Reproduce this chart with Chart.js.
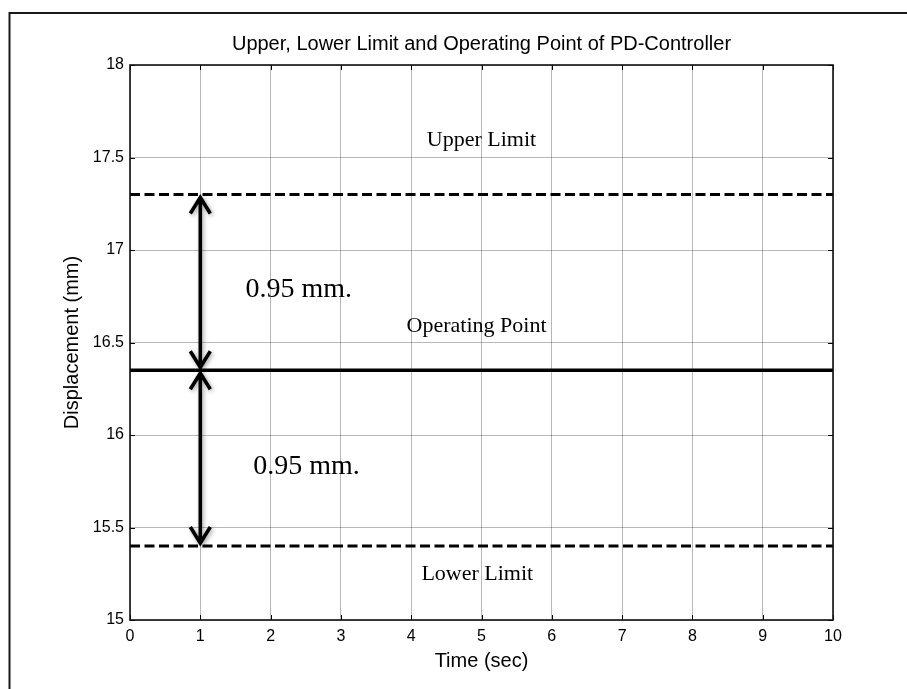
<!DOCTYPE html>
<html>
<head>
<meta charset="utf-8">
<title>Upper, Lower Limit and Operating Point of PD-Controller</title>
<script src="https://cdn.jsdelivr.net/npm/chart.js@4.4.0/dist/chart.umd.min.js"></script>
<style>
  html, body { margin: 0; padding: 0; background: #fff; }
  canvas { display: block; }
</style>
</head>
<body>
<canvas id="chart" width="907" height="689"></canvas>
<script>
// Time axis (sec) and the three horizontal reference levels (mm)
const timeSec = [0, 10];
const upperLimit = [17.3, 17.3];
const operatingPoint = [16.35, 16.35];
const lowerLimit = [15.4, 15.4];

// Tick values for both axes
const xTickValues = [0, 1, 2, 3, 4, 5, 6, 7, 8, 9, 10];
const yTickValues = [15, 15.5, 16, 16.5, 17, 17.5, 18];

// Time at which the span arrows are drawn
const arrowTime = 1;

const SANS = '"Liberation Sans", Arial, Helvetica, sans-serif';
const SERIF = '"Liberation Serif", "Times New Roman", Times, serif';

const toPoints = (ys) => timeSec.map((t, i) => ({ x: t, y: ys[i] }));
const spanText = (a, b) => (a - b).toFixed(2) + ' mm.';

// Text notes placed in data coordinates (baseline position)
const notes = [
  { text: 'Upper Limit', x: 5.0, y: 17.562, size: 22 },
  { text: 'Operating Point', x: 4.93, y: 16.558, size: 22 },
  { text: 'Lower Limit', x: 4.94, y: 15.216, size: 22 },
  { text: spanText(upperLimit[0], operatingPoint[0]), x: 2.40, y: 16.748, size: 28 },
  { text: spanText(operatingPoint[0], lowerLimit[0]), x: 2.51, y: 15.788, size: 28 }
];

// Page frame drawn behind everything
const framePlugin = {
  id: 'frame',
  beforeDraw(chart) {
    const ctx = chart.ctx;
    ctx.save();
    ctx.fillStyle = '#fff';
    ctx.fillRect(0, 0, chart.width, chart.height);
    ctx.strokeStyle = '#1a1a1a';
    ctx.lineWidth = 2;
    ctx.beginPath();
    ctx.moveTo(9.5, chart.height);
    ctx.lineTo(9.5, 13);
    ctx.lineTo(chart.width, 13);
    ctx.stroke();
    ctx.restore();
  }
};

// Axes box, inward tick marks, span arrows and notes
const overlayPlugin = {
  id: 'overlay',
  afterDatasetsDraw(chart) {
    const ctx = chart.ctx;
    const { left, right, top, bottom } = chart.chartArea;
    const xs = chart.scales.x, ys = chart.scales.y;
    ctx.save();

    // inward ticks on all four sides
    ctx.strokeStyle = '#000';
    ctx.lineWidth = 1;
    const tl = 5;
    ctx.beginPath();
    xTickValues.forEach(v => {
      const px = Math.round(xs.getPixelForValue(v)) + 0.5;
      ctx.moveTo(px, bottom); ctx.lineTo(px, bottom - tl);
      ctx.moveTo(px, top); ctx.lineTo(px, top + tl);
    });
    yTickValues.forEach(v => {
      const py = Math.round(ys.getPixelForValue(v)) + 0.5;
      ctx.moveTo(left, py); ctx.lineTo(left + tl, py);
      ctx.moveTo(right, py); ctx.lineTo(right - tl, py);
    });
    ctx.stroke();

    // axes box
    ctx.lineWidth = 1.6;
    ctx.strokeStyle = '#111';
    ctx.strokeRect(left, top, right - left, bottom - top);

    // double-headed span arrows
    const ax = xs.getPixelForValue(arrowTime);
    const drawArrow = (yTop, yBot) => {
      const hw = 10, hh = 19, tip = 3;
      ctx.beginPath();
      ctx.moveTo(ax, yTop + tip);
      ctx.lineTo(ax, yBot - tip);
      ctx.moveTo(ax - hw, yTop + hh);
      ctx.lineTo(ax, yTop + tip);
      ctx.lineTo(ax + hw, yTop + hh);
      ctx.moveTo(ax - hw, yBot - hh);
      ctx.lineTo(ax, yBot - tip);
      ctx.lineTo(ax + hw, yBot - hh);
      ctx.stroke();
    };
    ctx.strokeStyle = '#000';
    ctx.lineWidth = 3.6;
    ctx.lineJoin = 'miter';
    ctx.lineCap = 'butt';
    ctx.shadowColor = 'rgba(0,0,0,0.35)';
    ctx.shadowBlur = 4;
    ctx.shadowOffsetX = 1.5;
    ctx.shadowOffsetY = 1.5;
    drawArrow(ys.getPixelForValue(upperLimit[0]), ys.getPixelForValue(operatingPoint[0]));
    drawArrow(ys.getPixelForValue(operatingPoint[0]), ys.getPixelForValue(lowerLimit[0]));
    ctx.shadowColor = 'transparent';
    ctx.shadowBlur = 0;
    ctx.shadowOffsetX = 0;
    ctx.shadowOffsetY = 0;

    // notes
    ctx.fillStyle = '#000';
    ctx.textAlign = 'center';
    ctx.textBaseline = 'alphabetic';
    notes.forEach(n => {
      ctx.font = n.size + 'px ' + SERIF;
      ctx.fillText(n.text, xs.getPixelForValue(n.x), ys.getPixelForValue(n.y));
    });

    ctx.restore();
  }
};

const lineStyle = { borderColor: '#000', pointRadius: 0, fill: false, tension: 0 };

new Chart(document.getElementById('chart'), {
  type: 'line',
  data: {
    datasets: [
      Object.assign({ label: 'Upper Limit', data: toPoints(upperLimit), borderWidth: 3.2, borderDash: [10, 4.5] }, lineStyle),
      Object.assign({ label: 'Operating Point', data: toPoints(operatingPoint), borderWidth: 3.4 }, lineStyle),
      Object.assign({ label: 'Lower Limit', data: toPoints(lowerLimit), borderWidth: 3.2, borderDash: [10, 4.5] }, lineStyle)
    ]
  },
  options: {
    responsive: false,
    animation: false,
    devicePixelRatio: 1,
    layout: { padding: { top: 20, right: 74, bottom: 0, left: 0 } },
    plugins: {
      legend: { display: false },
      tooltip: { enabled: false },
      title: {
        display: true,
        fullSize: false,
        text: 'Upper, Lower Limit and Operating Point of PD-Controller',
        color: '#000',
        font: { family: SANS, size: 20, weight: 'normal', lineHeight: 1.2 },
        padding: { top: 12.5, bottom: 8.5 }
      }
    },
    scales: {
      x: {
        type: 'linear',
        position: 'bottom',
        min: 0,
        max: 10,
        afterBuildTicks(s) { s.ticks = xTickValues.map(v => ({ value: v })); },
        afterFit(s) { s.height = 69; },
        ticks: {
          color: '#000',
          font: { family: SANS, size: 16 },
          padding: 7,
          maxRotation: 0,
          autoSkip: false,
          callback: (v) => String(v)
        },
        grid: { color: 'rgba(0,0,0,0.28)', lineWidth: 1, drawTicks: false },
        border: { display: false },
        title: {
          display: true,
          text: 'Time (sec)',
          color: '#000',
          font: { family: SANS, size: 20, lineHeight: 1.2 },
          padding: { top: 0, bottom: 16 }
        }
      },
      y: {
        type: 'linear',
        min: 15,
        max: 18,
        afterBuildTicks(s) { s.ticks = yTickValues.map(v => ({ value: v })); },
        afterFit(s) { s.width = 130; },
        ticks: {
          color: '#000',
          font: { family: SANS, size: 16 },
          padding: 6,
          autoSkip: false,
          callback: (v) => String(v)
        },
        grid: { color: 'rgba(0,0,0,0.28)', lineWidth: 1, drawTicks: false },
        border: { display: false },
        title: {
          display: true,
          text: 'Displacement (mm)',
          color: '#000',
          font: { family: SANS, size: 20, lineHeight: 1.2 },
          padding: { top: 60.5, bottom: 0 }
        }
      }
    }
  },
  plugins: [framePlugin, overlayPlugin]
});
</script>
</body>
</html>
